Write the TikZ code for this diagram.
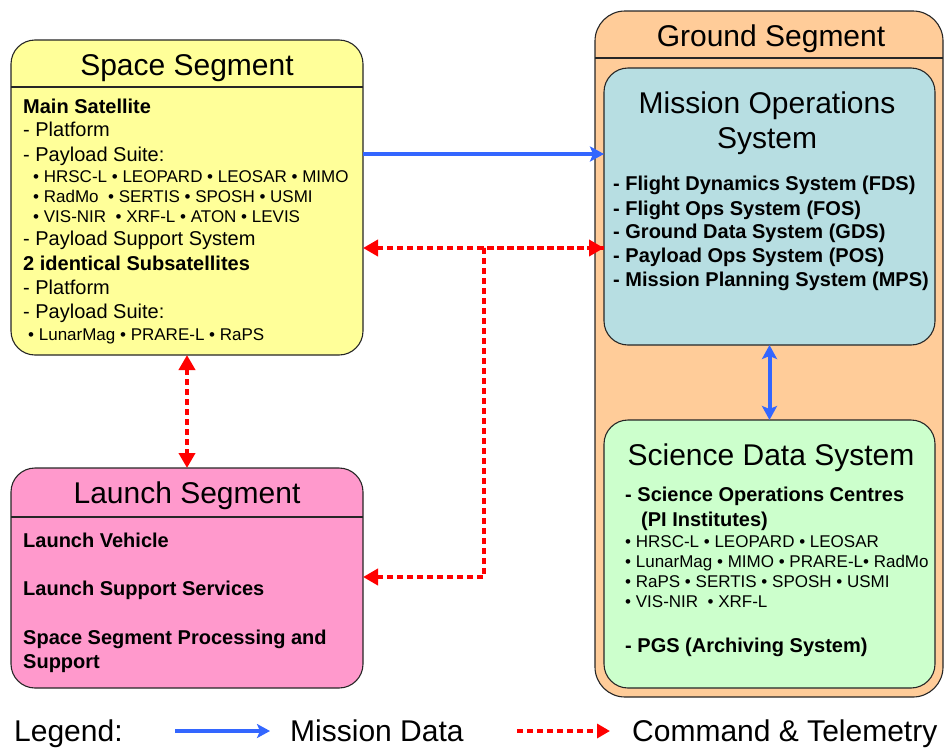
\documentclass[tikz,border=0pt]{standalone}
\usepackage{fontspec}
\setmainfont{Liberation Sans}
\usetikzlibrary{arrows.meta}

\definecolor{spaceyellow}{RGB}{255,255,153}
\definecolor{launchpink}{RGB}{255,153,204}
\definecolor{groundorange}{RGB}{255,204,153}
\definecolor{mosblue}{RGB}{183,222,226}
\definecolor{sdsgreen}{RGB}{204,255,204}
\definecolor{datablue}{RGB}{51,102,255}

\begin{document}
\begin{tikzpicture}[x=1pt,y=-1pt,
  seg/.style={draw=black!85, line width=1.1pt, rounded corners=24pt, inner sep=0pt, outer sep=0pt},
  hd/.style={font=\fontsize{30}{35}\selectfont, anchor=base, inner sep=0pt},
  txt/.style={font=\fontsize{20}{24}\selectfont, anchor=base west, inner sep=0pt},
  bld/.style={txt, font=\fontsize{20}{24}\selectfont\bfseries},
  sml/.style={font=\fontsize{17}{20}\selectfont, anchor=base west, inner sep=0pt},
  md/.style={datablue, line width=4pt},
  ct/.style={red, line width=4.5pt, dash pattern=on 6pt off 4pt}
]
  \useasboundingbox (0,0) rectangle (944,747);

  % segment boxes
  \node[seg, fill=groundorange, minimum width=348pt, minimum height=686pt, rounded corners=30pt] (ground) at (769,354) {};
  \node[seg, fill=spaceyellow, minimum width=352pt, minimum height=315pt] (space) at (187,197.5) {};
  \node[seg, fill=launchpink, minimum width=352pt, minimum height=220pt] (launch) at (187,578) {};
  \node[seg, fill=mosblue, minimum width=331pt, minimum height=277pt] (mos) at (769.5,206.5) {};
  \node[seg, fill=sdsgreen, minimum width=331pt, minimum height=268pt] (sds) at (769.5,554) {};

  % title bars
  \draw[line width=1.1pt, black!85] (space.west |- 0,87) -- (space.east |- 0,87);
  \draw[line width=1.1pt, black!85] (launch.west |- 0,517) -- (launch.east |- 0,517);
  \draw[line width=1.1pt, black!85] (ground.west |- 0,58) -- (ground.east |- 0,58);

  % space segment
  \node[hd] (ss-title) at (187,75) {Space Segment};
  \node[bld] (ss-main) at (23,113) {Main Satellite};
  \node[txt] (ss-plat1) at (23,136) {- Platform};
  \node[txt] (ss-pay1) at (23,161) {- Payload Suite:};
  \node[sml] (ss-inst1) at (33,182) {• HRSC-L • LEOPARD • LEOSAR • MIMO};
  \node[sml] (ss-inst2) at (33,202) {• RadMo \ • SERTIS • SPOSH • USMI};
  \node[sml] (ss-inst3) at (33,222) {• VIS-NIR \ • XRF-L • ATON • LEVIS};
  \node[txt] (ss-pss) at (23,245) {- Payload Support System};
  \node[bld] (ss-sub) at (23,270) {2 identical Subsatellites};
  \node[txt] (ss-plat2) at (23,294) {- Platform};
  \node[txt] (ss-pay2) at (23,318) {- Payload Suite:};
  \node[sml] (ss-inst4) at (28,340) {• LunarMag • PRARE-L • RaPS};

  % launch segment
  \node[hd] (ls-title) at (187,503) {Launch Segment};
  \node[bld] (ls-lv) at (23,547) {Launch Vehicle};
  \node[bld] (ls-lss) at (23,595) {Launch Support Services};
  \node[bld] (ls-ssp) at (23,644) {Space Segment Processing and};
  \node[bld] (ls-sup) at (23,668) {Support};

  % ground segment
  \node[hd] (gs-title) at (771,46) {Ground Segment};
  \node[hd] (mos-title1) at (767,113) {Mission Operations};
  \node[hd] (mos-title2) at (767,148) {System};
  \foreach \y/\t [count=\i] in {190/Flight Dynamics System (FDS), 215/Flight Ops System (FOS),
      238/Ground Data System (GDS), 262/Payload Ops System (POS), 286/Mission Planning System (MPS)}
    \node[bld] (mos-\i) at (613,\y) {- \t};

  \node[hd] (sds-title) at (771,465) {Science Data System};
  \node[bld] (sds-soc) at (625,501) {- Science Operations Centres};
  \node[bld] (sds-pi) at (641,526) {(PI Institutes)};
  \node[sml] (sds-inst1) at (625,547) {• HRSC-L • LEOPARD • LEOSAR};
  \node[sml] (sds-inst2) at (625,567) {• LunarMag • MIMO • PRARE-L• RadMo};
  \node[sml] (sds-inst3) at (625,587) {• RaPS • SERTIS • SPOSH • USMI};
  \node[sml] (sds-inst4) at (625,607) {• VIS-NIR \ • XRF-L};
  \node[bld] (sds-pgs) at (625,652) {- PGS (Archiving System)};

  % mission data links
  \draw[md, -{Stealth[length=14pt,width=15pt,inset=3pt]}] (space.east |- 0,154) -- (mos.west |- 0,154);
  \draw[md, {Stealth[length=14pt,width=15pt,inset=3pt]}-{Stealth[length=14pt,width=15pt,inset=3pt]}] (mos.south) -- (sds.north);

  % command and telemetry links
  \coordinate (bend) at (484,577);
  \draw[ct, {Triangle[length=15pt,width=16pt]}-{Triangle[length=15pt,width=16pt]}] (space.east |- 0,248) -- (mos.west |- 0,248);
  \draw[ct, -{Triangle[length=15pt,width=16pt]}] (mos.west |- 0,248) -| (bend) -- (launch.east |- bend);
  \draw[ct, {Triangle[length=15pt,width=16pt]}-{Triangle[length=15pt,width=16pt]}] (space.south) -- (launch.north);

  % legend
  \node[font=\fontsize{30}{35}\selectfont, anchor=base west, inner sep=0pt] (legend) at (14,741) {Legend:};
  \coordinate (md-a) at (175,731);
  \coordinate (md-b) at (270,731);
  \draw[md, -{Stealth[length=13pt,width=14pt,inset=3pt]}] (md-a) -- (md-b);
  \node[font=\fontsize{30}{35}\selectfont, anchor=base west, inner sep=0pt] (md-label) at (290,741) {Mission Data};
  \coordinate (ct-a) at (517,731);
  \coordinate (ct-b) at (610,731);
  \draw[ct, -{Triangle[length=13pt,width=14pt]}] (ct-a) -- (ct-b);
  \node[font=\fontsize{30}{35}\selectfont, anchor=base west, inner sep=0pt] (ct-label) at (632,741) {Command \& Telemetry};
\end{tikzpicture}
\end{document}
